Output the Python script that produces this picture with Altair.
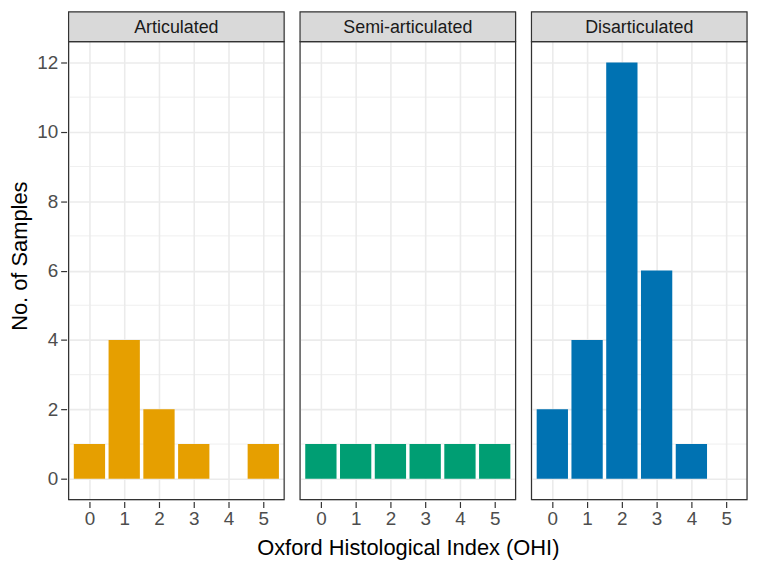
import altair as alt
import pandas as pd

panels = ["Articulated", "Semi-articulated", "Disarticulated"]
colors = ["#E69F00", "#009E73", "#0072B2"]
ohi = [0, 1, 2, 3, 4, 5]
counts_articulated = [1, 4, 2, 1, 0, 1]
counts_semi = [1, 1, 1, 1, 1, 1]
counts_disarticulated = [2, 4, 12, 6, 1, 0]
y_major = [0, 2, 4, 6, 8, 10, 12]
y_minor = [1, 3, 5, 7, 9, 11]

FONT = "Liberation Sans"
W = 217
PLOT_H = 461
STRIP = 30
GRID = "#EBEBEB"
DARK = "#333333"

Y_LO, Y_HI = -0.6, 12.6
strip_units = (Y_HI - Y_LO) * STRIP / PLOT_H
Y_TOP = Y_HI + strip_units

all_counts = [counts_articulated, counts_semi, counts_disarticulated]
rows = []
for p, cs in zip(panels, all_counts):
    for o, c in zip(ohi, cs):
        rows.append({"kind": "bar", "panel": p, "OHI": o, "count": c})
    for v in y_minor:
        rows.append({"kind": "minor", "panel": p, "v": v})
    rows.append({"kind": "strip", "panel": p, "s0": Y_HI, "s1": Y_TOP,
                 "smid": (Y_HI + Y_TOP) / 2, "lo": Y_LO})
df = pd.DataFrame(rows)

xscale = alt.Scale(domain=[-0.6, 5.6], nice=False, zero=False)
yscale = alt.Scale(domain=[Y_LO, Y_TOP], nice=False, zero=False)

xaxis = alt.Axis(
    values=ohi, grid=True, gridColor=GRID, gridWidth=1.6, domain=False,
    tickColor=DARK, tickSize=6, tickWidth=1.2, labelColor="#4D4D4D",
    labelFontSize=19, labelFont=FONT, labelPadding=2, format="d",
    title=None,
)
yaxis = alt.Axis(
    values=y_major, grid=True, gridColor=GRID, gridWidth=1.6, domain=False,
    tickColor=DARK, tickSize=6, tickWidth=1.2, labelColor="#4D4D4D",
    labelFontSize=19, labelFont=FONT, labelPadding=3, format="d",
    title="No. of Samples", titleFont=FONT, titleFontSize=22,
    titleFontWeight="normal", titleColor="#000000", titlePadding=5,
)

base = alt.Chart()

grid_minor = base.transform_filter(alt.datum.kind == "minor").mark_rule(
    color=GRID, strokeWidth=0.8
).encode(
    y=alt.Y("v:Q", scale=yscale, axis=yaxis),
)

bars = base.transform_filter(
    (alt.datum.kind == "bar") & (alt.datum["count"] > 0)
).transform_calculate(
    x0="datum.OHI - 0.45", x1="datum.OHI + 0.45", zero="0"
).mark_rect().encode(
    x=alt.X("x0:Q", scale=xscale, axis=xaxis),
    x2="x1:Q",
    y=alt.Y("count:Q", scale=yscale, axis=yaxis),
    y2="zero:Q",
    color=alt.Color("panel:N", scale=alt.Scale(domain=panels, range=colors),
                    legend=None),
)

border = base.transform_filter(alt.datum.kind == "strip").mark_rect(
    fill="white", fillOpacity=0, stroke=DARK, strokeWidth=1.2
).encode(
    x=alt.value(0), x2=alt.value(W),
    y=alt.Y("lo:Q", scale=yscale, axis=yaxis), y2="s0:Q",
)

strip_rect = base.transform_filter(alt.datum.kind == "strip").mark_rect(
    fill="#D9D9D9", stroke=DARK, strokeWidth=1.2
).encode(
    x=alt.value(0), x2=alt.value(W),
    y=alt.Y("s0:Q", scale=yscale, axis=yaxis), y2="s1:Q",
)

strip_text = base.transform_filter(alt.datum.kind == "strip").mark_text(
    font=FONT, fontSize=18, color="#1A1A1A", baseline="middle", align="center",
    dy=1,
).encode(
    text="panel:N", x=alt.value(W / 2),
    y=alt.Y("smid:Q", scale=yscale, axis=yaxis),
)

chart = alt.layer(
    grid_minor, bars, border, strip_rect, strip_text, data=df
).properties(
    width=W, height=PLOT_H + STRIP
).facet(
    column=alt.Column(
        "panel:N", sort=panels,
        header=alt.Header(
            labels=False, labelPadding=0, title="Oxford Histological Index (OHI)",
            titleOrient="bottom", titleFont=FONT, titleFontSize=22,
            titleFontWeight="normal", titleColor="#000000", titlePadding=0,
        ),
    ),
    spacing=12,
).properties(
    padding={"left": 0, "top": 0, "right": 0, "bottom": 0}
).configure_view(
    stroke=None, fill="white"
).configure(background="white")

chart.save("out.html", embed_options={"renderer": "svg", "actions": False})
